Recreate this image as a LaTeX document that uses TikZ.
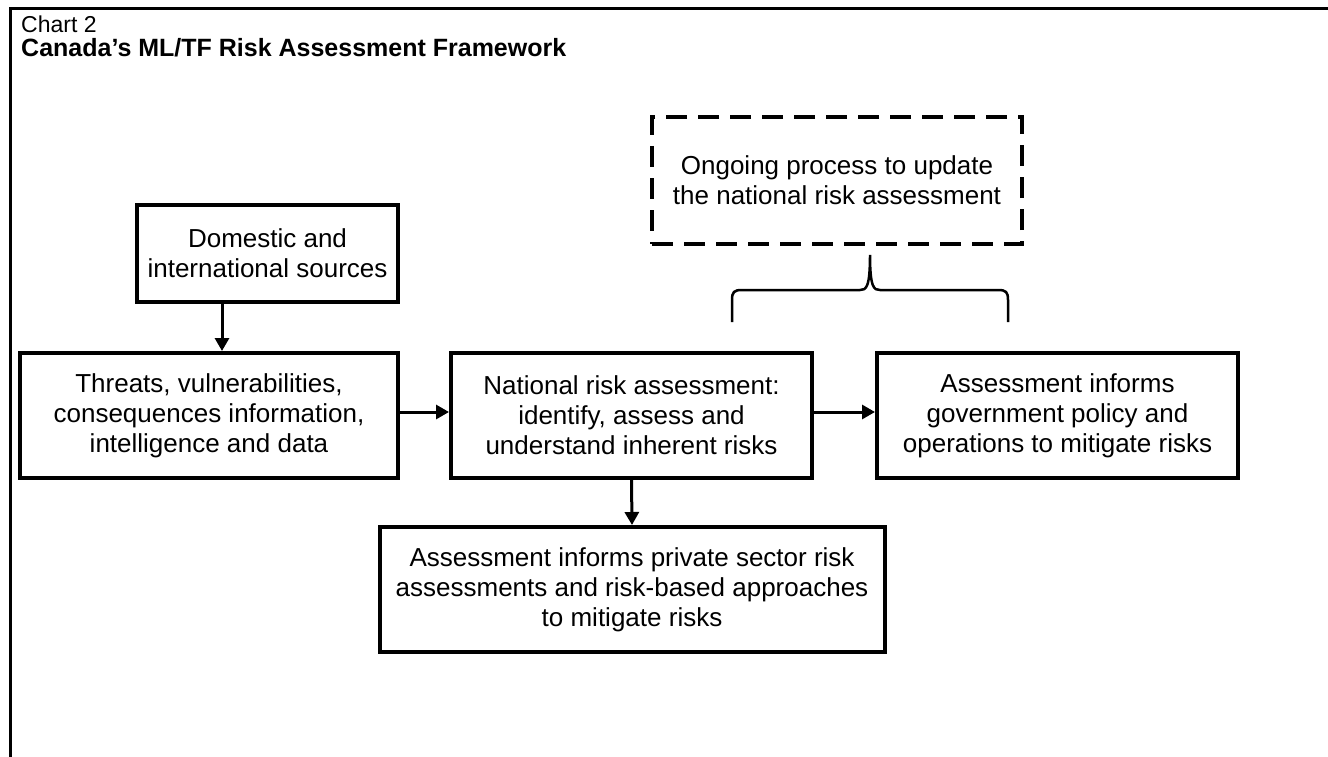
\documentclass[tikz,border=0pt]{standalone}
\usepackage{fontspec}
\setmainfont{Liberation Sans}
\usetikzlibrary{arrows.meta}
\begin{document}
\begin{tikzpicture}[x=1pt,y=-1pt,
  box/.style={draw, line width=4pt, rectangle, align=center, inner sep=0pt, font=\fontsize{26}{30}\selectfont},
  dbox/.style={box, dash pattern=on 21pt off 11pt, line width=4pt},
  arr/.style={line width=3pt, -{Triangle[length=13pt,width=14pt]}},
  lbl/.style={anchor=base west, inner sep=0pt},
]
\useasboundingbox (0,0) rectangle (1328,757);
\draw[line width=3pt] (1328,9) -- (10,9) -- (10,757);
\node[lbl, font=\fontsize{23}{24}\selectfont] (chart) at (21,33) {Chart 2};
\node[lbl, font=\bfseries\fontsize{25}{26}\selectfont] (title) at (21,57) {Canada’s ML/TF Risk Assessment Framework};

\node[box, minimum width=261pt, minimum height=97pt] (dom) at (267.5,253.5) {Domestic and\\international sources};
\node[box, minimum width=378pt, minimum height=125pt] (thr) at (209,415.5) {Threats, vulnerabilities,\\consequences information,\\intelligence and data};
\node[box, minimum width=361pt, minimum height=125pt] (nat) at (631.5,415.5) {National risk assessment:\\identify, assess and\\understand inherent risks};
\node[box, minimum width=361pt, minimum height=125pt] (gov) at (1057.5,415.5) {Assessment informs\\government policy and\\operations to mitigate risks};
\node[box, minimum width=505pt, minimum height=125pt] (prv) at (632,589.5) {Assessment informs private sector risk\\assessments and risk-based approaches\\to mitigate risks};
\node[dbox, minimum width=370pt, minimum height=127pt] (upd) at (837,180.5) {Ongoing process to update\\the national risk assessment};

\coordinate (ax1) at (222,0);
\coordinate (ay1) at (0,412);
\draw[arr] (dom.south -| ax1) -- (thr.north -| ax1);
\draw[arr] (thr.east |- ay1) -- (nat.west |- ay1);
\draw[arr] (nat.east |- ay1) -- (gov.west |- ay1);
\draw[arr] (nat.south) -- (prv.north);

\coordinate (bl) at (732,322);
\coordinate (bt) at (870,255);
\coordinate (br) at (1008,322);
\draw[line width=2.5pt] (bl) -- (732,300) .. controls (732,292) and (734,290) .. (742,290) -- (860,290) .. controls (866,290) and (870,288) .. (bt) .. controls (870,288) and (874,290) .. (880,290) -- (998,290) .. controls (1006,290) and (1008,292) .. (1008,300) -- (br);
\end{tikzpicture}
\end{document}
